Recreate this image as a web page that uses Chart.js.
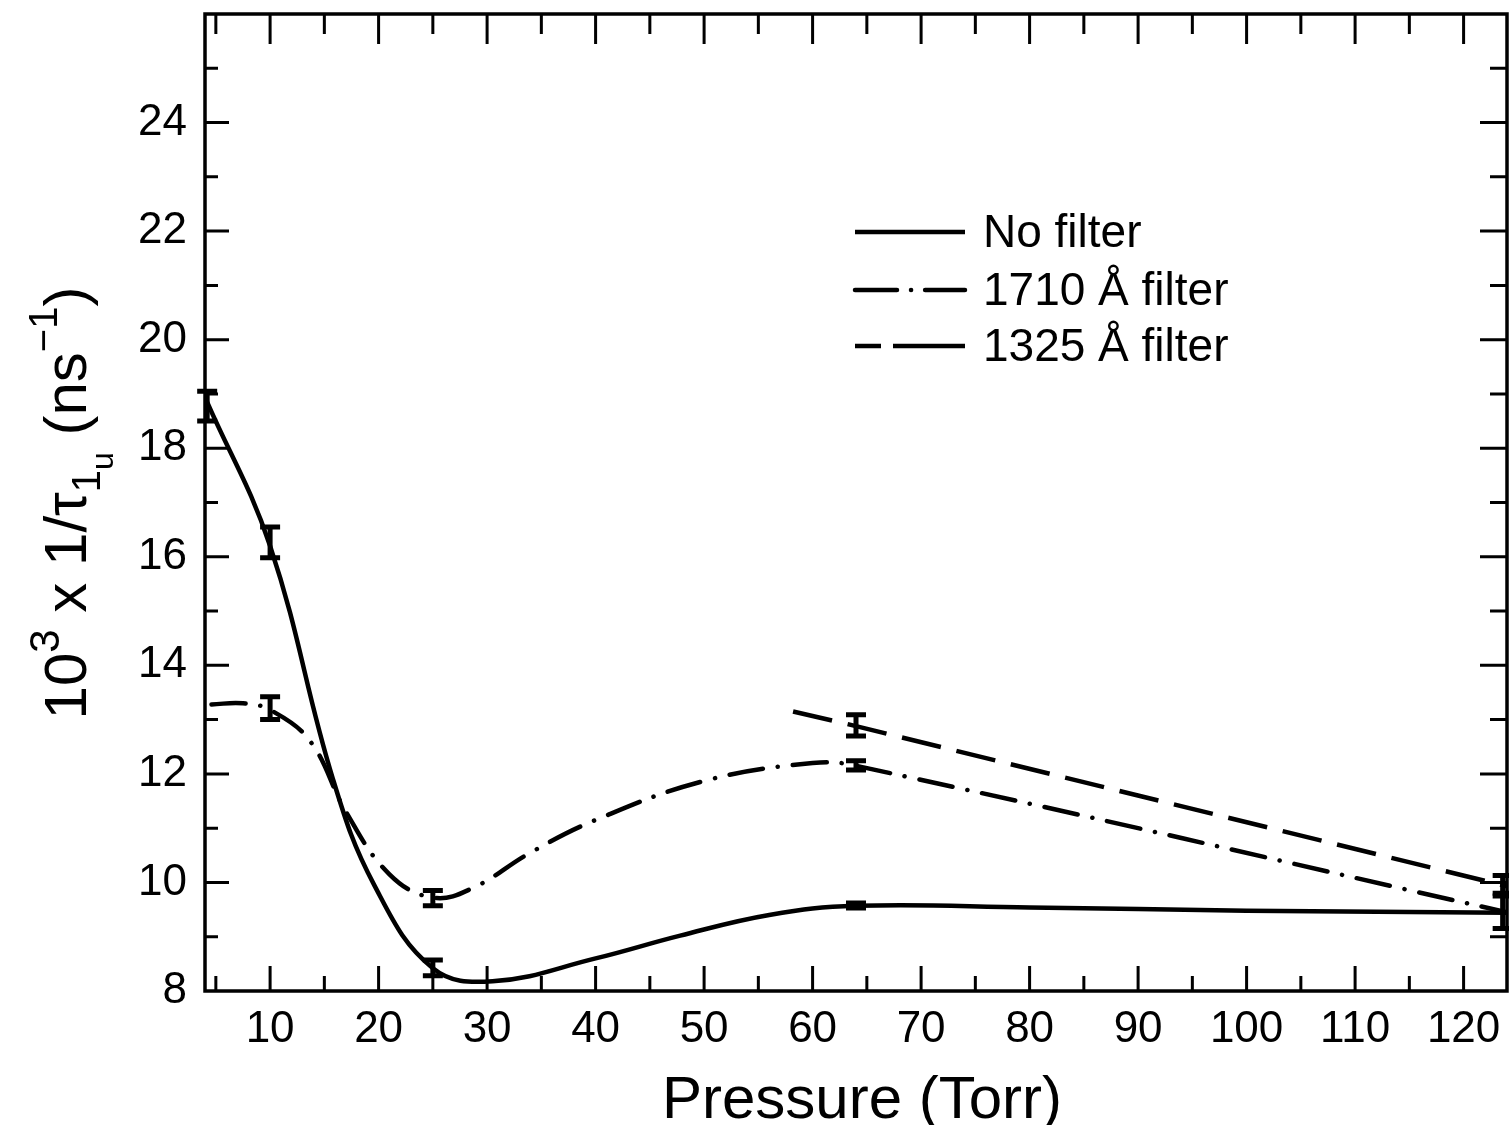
<!DOCTYPE html>
<html><head><meta charset="utf-8">
<script src="https://cdn.jsdelivr.net/npm/chart.js@4.4.1/dist/chart.umd.min.js"></script>
<style>html,body{margin:0;padding:0;background:#fff;}canvas{display:block}</style>
</head><body>
<canvas id="c" width="1509" height="1125"></canvas>
<script>
// ---- data ----
const xMin = 4, xMax = 124;
const yMin = 8, yMax = 26;
const xTickLabels = [10,20,30,40,50,60,70,80,90,100,110,120];
const yTickLabels = [8,10,12,14,16,18,20,22,24];
const xMinorTicks = [5,10,15,20,25,30,35,40,45,50,55,60,65,70,75,80,85,90,95,100,105,110,115,120];
const yMinorTicks = [9,10,11,12,13,14,15,16,17,18,19,20,21,22,23,24,25];

const noFilterX = [4.2, 10, 15.8, 19.6, 25, 30.5, 40, 47.8, 56, 64, 80, 100, 124];
const noFilterY = [18.85, 16.2, 11.9, 9.95, 8.42, 8.18, 8.6, 9.02, 9.4, 9.57, 9.54, 9.48, 9.44];

const f1710X = [4.6, 7.5, 10, 13.7, 17, 21, 25, 28.7, 34, 40, 50, 60, 64, 124];
const f1710Y = [13.28, 13.3, 13.18, 12.6, 11.3, 10.15, 9.72, 9.9, 10.55, 11.15, 11.87, 12.2, 12.15, 9.45];

const f1325X = [58.2, 64, 124];
const f1325Y = [13.15, 12.88, 9.93];

const noFilterErrX = [4.2, 10, 25, 64, 123.6];
const noFilterErrLo = [18.5, 15.98, 8.28, 9.53, 9.15];
const noFilterErrHi = [19.05, 16.55, 8.57, 9.62, 9.75];

const f1710ErrX = [10, 25, 64];
const f1710ErrLo = [13.0, 9.57, 12.07];
const f1710ErrHi = [13.42, 9.85, 12.24];

const f1325ErrX = [64, 123.6];
const f1325ErrLo = [12.7, 9.8];
const f1325ErrHi = [13.09, 10.13];

const seriesNames = ['No filter', '1710 Å filter', '1325 Å filter'];

// ---- styles ----
const FONT = '"Liberation Sans", Arial, sans-serif';
const DASHDOT = [34, 15, 0.1, 15];
const DASHED = [40, 16];
const X_TICK_PAD = 12;
const X_TICK_FONT = 44;

function pts(xs, ys){ return xs.map((x,i)=>({x:x, y:ys[i]})); }

const errorSets = [
  {x:noFilterErrX, lo:noFilterErrLo, hi:noFilterErrHi},
  {x:f1710ErrX, lo:f1710ErrLo, hi:f1710ErrHi},
  {x:f1325ErrX, lo:f1325ErrLo, hi:f1325ErrHi}
];

const framePlugin = {
  id:'frame',
  afterDatasetsDraw(chart){
    const ctx = chart.ctx, a = chart.chartArea;
    const xs = chart.scales.x, ys = chart.scales.y;
    ctx.save();
    ctx.strokeStyle = '#000';
    ctx.lineCap = 'butt';
    ctx.lineWidth = 3.5;
    ctx.strokeRect(a.left, a.top, a.right - a.left, a.bottom - a.top);
    ctx.lineWidth = 3;
    xMinorTicks.forEach(v=>{
      const px = xs.getPixelForValue(v);
      const major = v % 10 === 0;
      const lb = major ? 25 : 15, lt = major ? 30 : 20;
      ctx.beginPath();
      ctx.moveTo(px, a.bottom); ctx.lineTo(px, a.bottom - lb);
      ctx.moveTo(px, a.top); ctx.lineTo(px, a.top + lt);
      ctx.stroke();
    });
    yMinorTicks.forEach(v=>{
      const py = ys.getPixelForValue(v);
      const major = v % 2 === 0;
      const ll = major ? 24 : 13, lr = major ? 27 : 17;
      ctx.beginPath();
      ctx.moveTo(a.left, py); ctx.lineTo(a.left + ll, py);
      ctx.moveTo(a.right, py); ctx.lineTo(a.right - lr, py);
      ctx.stroke();
    });
    ctx.lineWidth = 5;
    errorSets.forEach(s=>{
      s.x.forEach((xv,i)=>{
        const px = xs.getPixelForValue(xv);
        const pl = ys.getPixelForValue(s.lo[i]);
        const ph = ys.getPixelForValue(s.hi[i]);
        ctx.beginPath();
        ctx.moveTo(px, pl); ctx.lineTo(px, ph);
        ctx.moveTo(px - 10, pl); ctx.lineTo(px + 10, pl);
        ctx.moveTo(px - 10, ph); ctx.lineTo(px + 10, ph);
        ctx.stroke();
      });
    });
    ctx.restore();
  },
  afterDraw(chart){
    const ctx = chart.ctx;
    ctx.save();
    ctx.fillStyle = '#000';
    ctx.strokeStyle = '#000';
    const legY = [232, 290, 346];
    const legDash = [[], [42, 14, 0.1, 14], [26, 12, 72, 0]];
    ctx.lineWidth = 4.5;
    ctx.font = '46px ' + FONT;
    ctx.textBaseline = 'middle';
    ctx.textAlign = 'left';
    seriesNames.forEach((n,i)=>{
      ctx.setLineDash(legDash[i]);
      ctx.lineCap = i === 1 ? 'round' : 'butt';
      ctx.beginPath();
      ctx.moveTo(855, legY[i]); ctx.lineTo(965, legY[i]);
      ctx.stroke();
      ctx.setLineDash([]);
      ctx.fillText(n, 983, legY[i] + 2);
    });
    ctx.font = '60px ' + FONT;
    ctx.textAlign = 'center';
    ctx.textBaseline = 'alphabetic';
    ctx.fillText('Pressure (Torr)', 862, 1118);
    const parts = [
      {t:'10', s:60, dy:0},
      {t:'3', s:42, dy:-27},
      {t:' x 1/τ', s:60, dy:0},
      {t:'1', s:40, dy:14},
      {t:'u', s:32, dy:27},
      {t:' (ns', s:60, dy:0},
      {t:'−1', s:40, dy:-29},
      {t:')', s:60, dy:0}
    ];
    let total = 0;
    parts.forEach(p=>{ ctx.font = p.s + 'px ' + FONT; p.w = ctx.measureText(p.t).width; total += p.w; });
    ctx.translate(86, 503);
    ctx.rotate(-Math.PI/2);
    ctx.textAlign = 'left';
    let x = -total/2;
    parts.forEach(p=>{ ctx.font = p.s + 'px ' + FONT; ctx.fillText(p.t, x, p.dy); x += p.w; });
    ctx.restore();
  }
};

const common = {pointRadius:0, borderColor:'#000', borderWidth:4.5, fill:false, tension:0.4};

// natural x-axis height (padding + label box, measured 13px above the plain line height);
// bottom layout padding fills the rest of the 135px band under the plot
const xAxisNatural = X_TICK_PAD + X_TICK_FONT * 1.2 + 13;

new Chart(document.getElementById('c'), {
  type:'line',
  data:{
    datasets:[
      Object.assign({label:seriesNames[0], data:pts(noFilterX, noFilterY)}, common),
      Object.assign({label:seriesNames[1], data:pts(f1710X, f1710Y), borderDash:DASHDOT, borderCapStyle:'round'}, common),
      Object.assign({}, common, {label:seriesNames[2], data:pts(f1325X, f1325Y), borderDash:DASHED, tension:0})
    ]
  },
  options:{
    responsive:false,
    animation:false,
    devicePixelRatio:1,
    layout:{padding:{left:0, right:2, top:14, bottom:135 - xAxisNatural}},
    plugins:{legend:{display:false}, tooltip:{enabled:false}},
    scales:{
      x:{
        type:'linear', min:xMin, max:xMax,
        grid:{display:false, drawTicks:false},
        border:{display:false},
        ticks:{color:'#000', padding:X_TICK_PAD, maxRotation:0, autoSkip:false, font:{size:X_TICK_FONT, family:FONT}},
        afterBuildTicks(s){ s.ticks = xTickLabels.map(v=>({value:v})); },
        afterFit(s){ s.paddingLeft = 0; s.paddingRight = 0; }
      },
      y:{
        type:'linear', min:yMin, max:yMax,
        grid:{display:false, drawTicks:false},
        border:{display:false},
        ticks:{color:'#000', padding:18, autoSkip:false, font:{size:44, family:FONT}},
        afterBuildTicks(s){ s.ticks = yTickLabels.map(v=>({value:v})); },
        afterFit(s){ s.width = 205; s.paddingTop = 0; s.paddingBottom = 0; }
      }
    }
  },
  plugins:[framePlugin]
});
</script>
</body></html>
